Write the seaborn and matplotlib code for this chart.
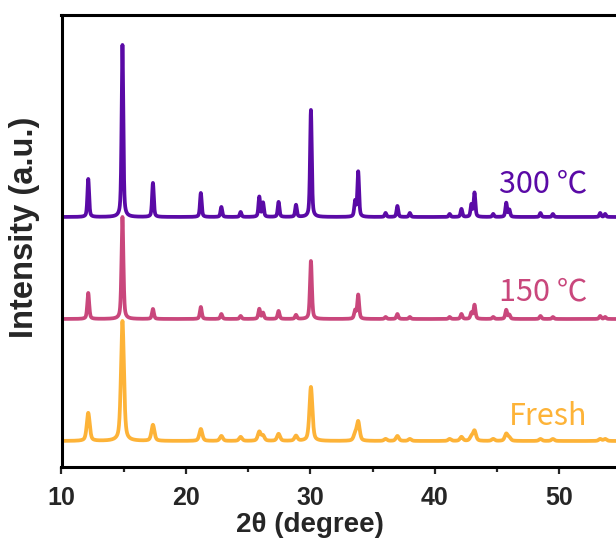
import numpy as np
import pandas as pd
import matplotlib
matplotlib.use("Agg")
import matplotlib.pyplot as plt
import seaborn as sns

# ---- data (2θ in degrees, intensities in a.u.) ----
samples = ["Fresh", "150 ℃", "300 ℃"]
offsets = [26, 148, 250]
peak_pos = [12.15, 14.9, 17.35, 21.2, 22.85, 24.4, 25.9, 26.2, 27.45, 28.85,
            30.05, 33.6, 33.85, 36.05, 37.0, 38.0, 41.2, 42.15, 42.95, 43.2,
            44.7, 45.75, 46.0, 48.5, 49.5, 53.3, 53.7]
h_fresh = [28, 120, 16, 12, 5, 4, 9, 5, 7, 5,
           54, 6, 19, 2, 5, 2, 2, 4, 4, 10,
           2, 7, 3, 2, 2, 2, 2]
h_150 = [26, 102, 10, 12, 5, 3, 10, 6, 8, 4,
         58, 8, 24, 2, 5, 2, 2, 5, 6, 14,
         2, 9, 4, 3, 2, 3, 2]
h_300 = [38, 172, 34, 24, 10, 5, 20, 14, 15, 12,
         107, 15, 45, 4, 11, 4, 3, 8, 12, 24,
         3, 14, 7, 4, 3, 4, 3]
fwhm = [0.28, 0.18, 0.16]
colors = ["#FDB338", "#C9477C", "#5A0AA6"]
label_y = [42, 167, 275]

# ---- build long-form table ----
x = np.arange(10.0, 54.6, 0.01)
rows = []
for name, off, heights, w in zip(samples, offsets, [h_fresh, h_150, h_300], fwhm):
    y = np.full_like(x, float(off))
    for p, h in zip(peak_pos, heights):
        d = (x - p) / (w / 2)
        lor = 1.0 / (1.0 + d ** 2)
        gau = np.exp(-np.log(2) * d ** 2)
        y += h * (0.5 * lor + 0.5 * gau)
    rows.append(pd.DataFrame({"two_theta": x, "intensity": y, "sample": name}))
df = pd.concat(rows, ignore_index=True)

sns.set_style("ticks")
plt.rcParams["font.family"] = ["Liberation Sans", "DejaVu Sans"]

fig = plt.figure(figsize=(6.16, 5.42), dpi=100)
W, H = 616, 542
ax = fig.add_axes([61.5 / W, (H - 467) / H, (616 - 61.5) / W, (467 - 15) / H])

sns.lineplot(data=df, x="two_theta", y="intensity", hue="sample",
             hue_order=samples, palette=dict(zip(samples, colors)),
             estimator=None, sort=False, legend=False, linewidth=2.7, ax=ax)

ax.set_xlim(10, 10 + (616 - 61.5) / 12.44)
ax.set_ylim(0, 452)
ax.set_yticks([])
ax.set_xticks([10, 20, 30, 40, 50])
ax.set_xticks([15, 25, 35, 45], minor=True)
ax.tick_params(axis="x", which="major", direction="out", length=5, width=1.6,
               pad=8.5, labelsize=18)
ax.tick_params(axis="x", which="minor", direction="out", length=3.5, width=1.6)
for lab in ax.get_xticklabels():
    lab.set_fontweight("bold")

for s in ["left", "bottom", "top"]:
    ax.spines[s].set_linewidth(2.2)
    ax.spines[s].set_color("black")
ax.spines["right"].set_visible(False)

ax.set_xlabel("2θ (degree)", fontsize=20, fontweight="bold")
ax.set_ylabel("Intensity (a.u.)", fontsize=23.5, fontweight="bold")
ax.xaxis.set_label_coords((310 - 61.5) / 554.5, (467 - 512) / 452)
ax.yaxis.set_label_coords((40 - 61.5) / 554.5, (467 - 227) / 452)

for name, c, ly in zip(samples, colors, label_y):
    ax.text(52.3, ly, name, color=c, fontsize=22, ha="right", va="baseline",
            family=["Noto Sans CJK SC", "DejaVu Sans"])

fig.savefig("out.png", dpi=100)
